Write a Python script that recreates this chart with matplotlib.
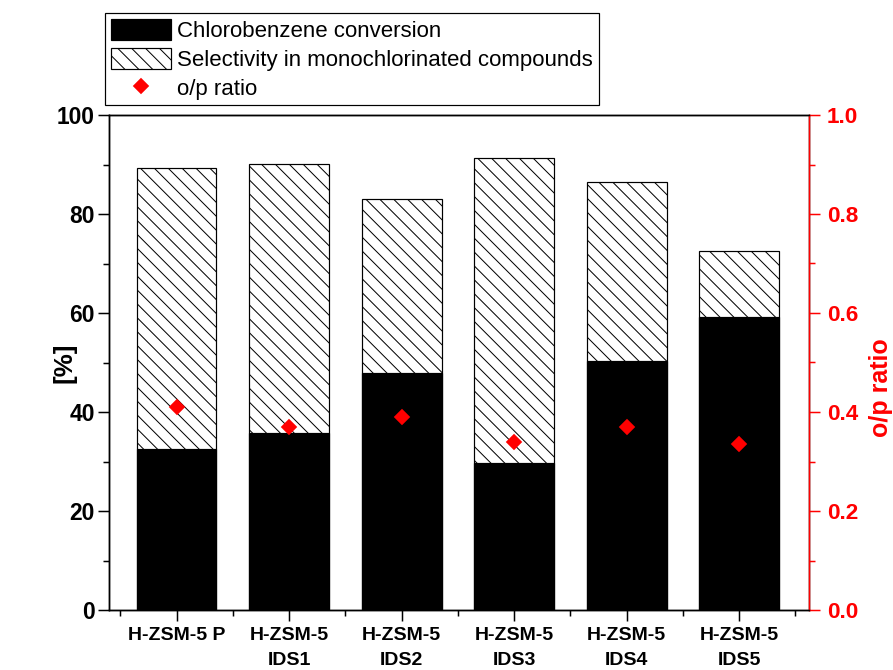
import matplotlib.pyplot as plt
import matplotlib.patches as mpatches
from matplotlib.legend_handler import HandlerPatch, HandlerLine2D
from matplotlib.ticker import MultipleLocator, FormatStrFormatter

DPI = 125
PX = 72.0 / DPI   # points per pixel

plt.rcParams['font.family'] = ['Liberation Sans', 'DejaVu Sans']
plt.rcParams['hatch.linewidth'] = 1.0 * PX

labels = ['H-ZSM-5 P', 'H-ZSM-5\nIDS1', 'H-ZSM-5\nIDS2', 'H-ZSM-5\nIDS3', 'H-ZSM-5\nIDS4', 'H-ZSM-5\nIDS5']
conversion = [32.5, 35.8, 47.8, 29.6, 50.4, 59.1]
selectivity = [89.3, 90.1, 83.0, 91.3, 86.4, 72.5]
op_ratio = [0.41, 0.37, 0.39, 0.34, 0.37, 0.335]

x = list(range(1, len(labels) + 1))

fig = plt.figure(figsize=(893 / DPI, 670 / DPI), dpi=DPI)
ax = fig.add_axes([109 / 893, 1 - 610 / 670, 700 / 893, 495 / 670])

b1 = ax.bar(x, selectivity, width=0.71, color='white', edgecolor='black', hatch='\\\\\\',
            linewidth=1.2 * PX, zorder=1)
b0 = ax.bar(x, conversion, width=0.71, color='black', edgecolor='black', linewidth=1.2 * PX, zorder=2)

ax.set_xlim(0.40, 6.62)
ax.set_ylim(0, 100)
ax.set_xticks(x)
ax.set_xticklabels(labels, fontweight='bold', fontsize=19.5 * PX, linespacing=1.6)
ax.xaxis.set_minor_locator(MultipleLocator(1, offset=0.5))
ax.yaxis.set_major_locator(MultipleLocator(20))
ax.yaxis.set_minor_locator(MultipleLocator(10))
ax.tick_params(axis='both', which='major', direction='out', length=11 * PX, width=1.5 * PX)
ax.tick_params(axis='both', which='minor', direction='out', length=6 * PX, width=1.5 * PX)
ax.tick_params(axis='x', which='major', pad=6 * PX)
ax.tick_params(axis='y', which='major', pad=3 * PX, labelsize=22.8 * PX)
for t in ax.get_yticklabels():
    t.set_fontweight('bold')
for s in ax.spines.values():
    s.set_linewidth(1.5 * PX)
ax.set_ylabel('[%]', fontsize=26 * PX, fontweight='bold')
ax.yaxis.set_label_coords(-0.046, 0.5)

ax2 = ax.twinx()
pts, = ax2.plot(x, op_ratio, linestyle='none', marker='D', color='red', markersize=9.5 * PX, zorder=3)
ax2.set_ylim(0, 1.0)
ax2.yaxis.set_major_locator(MultipleLocator(0.2))
ax2.yaxis.set_minor_locator(MultipleLocator(0.1))
ax2.yaxis.set_major_formatter(FormatStrFormatter('%.1f'))
ax2.spines['right'].set_color('red')
ax2.spines['right'].set_linewidth(1.5 * PX)
ax2.tick_params(axis='y', which='major', colors='red', direction='out', length=11 * PX,
                width=1.5 * PX, pad=7 * PX, labelsize=22.5 * PX)
ax2.tick_params(axis='y', which='minor', colors='red', direction='out', length=6 * PX, width=1.5 * PX)
for t in ax2.get_yticklabels():
    t.set_fontweight('bold')
ax2.set_ylabel('o/p ratio', color='red', fontsize=25 * PX, fontweight='bold')
ax2.yaxis.set_label_coords(1.086, 0.45)

# legend handles sit a bit in from the frame edge
LEG_FS = 22.2 * PX
OFF = 11  # px


def shifted_rect(legend, orig_handle, xdescent, ydescent, width, height, fontsize):
    return mpatches.Rectangle((-xdescent + OFF * PX, -ydescent), width - OFF * PX, height)


class ShiftedMarker(HandlerLine2D):
    def get_xdata(self, legend, xdescent, ydescent, width, height, fontsize):
        xd, xm = super().get_xdata(legend, xdescent, ydescent, width, height, fontsize)
        return xd, [v + OFF * PX / 2 for v in xm]


leg = fig.legend([b0, b1, pts], ['Chlorobenzene conversion', 'Selectivity in monochlorinated compounds', 'o/p ratio'],
                 loc='upper left', bbox_to_anchor=(105 / 893, 1 - 13 / 670), borderaxespad=0,
                 fontsize=LEG_FS, fancybox=False, edgecolor='black', framealpha=1,
                 borderpad=0.25, labelspacing=0.25, handlelength=(49 + OFF) / 22.2,
                 handleheight=1.13, handletextpad=0.3, numpoints=1,
                 handler_map={mpatches.Rectangle: HandlerPatch(patch_func=shifted_rect),
                              pts: ShiftedMarker()})
leg.get_frame().set_linewidth(1.2 * PX)

fig.savefig('out.png', dpi=DPI)
